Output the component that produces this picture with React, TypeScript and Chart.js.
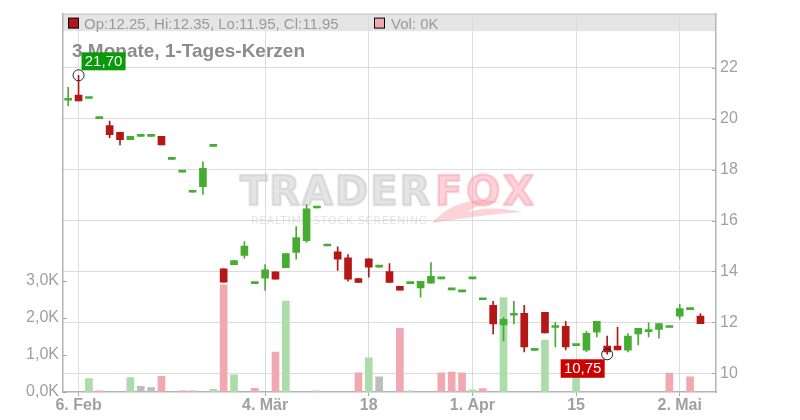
import React, { useEffect, useRef } from "react";
import { Chart, registerables } from "chart.js";

Chart.register(...registerables);

// ---------- data ----------
const dates = [
  "05.02.", "06.02.", "07.02.", "08.02.", "09.02.", "12.02.", "13.02.", "14.02.", "15.02.", "16.02.",
  "19.02.", "20.02.", "21.02.", "22.02.", "23.02.", "26.02.", "27.02.", "28.02.", "01.03.", "04.03.",
  "05.03.", "06.03.", "07.03.", "08.03.", "11.03.", "12.03.", "13.03.", "14.03.", "15.03.", "18.03.",
  "19.03.", "20.03.", "21.03.", "22.03.", "25.03.", "26.03.", "27.03.", "28.03.", "29.03.", "01.04.",
  "02.04.", "03.04.", "04.04.", "05.04.", "08.04.", "09.04.", "10.04.", "11.04.", "12.04.", "15.04.",
  "16.04.", "17.04.", "18.04.", "19.04.", "22.04.", "23.04.", "24.04.", "26.04.", "30.04.", "02.05.",
  "03.05.", "06.05.", "07.05.",
];

const opens = [
  20.72, 20.92, 20.79, 20.0, 19.73, 19.46, 19.17, 19.3, 19.3, 19.3,
  18.4, 17.9, 17.11, 17.33, 18.91, 14.1, 14.27, 14.63, 13.52, 13.74,
  13.99, 14.15, 14.75, 15.21, 16.49, 15.0, 14.77, 14.54, 13.72, 14.5,
  14.17, 14.0, 13.42, 13.52, 13.35, 13.54, 13.71, 13.28, 13.2, 13.71,
  12.89, 12.67, 11.9, 12.28, 12.36, 10.9, 12.4, 11.8, 11.85, 11.09,
  10.91, 11.62, 11.07, 11.07, 10.91, 11.55, 11.64, 11.73, 11.8, 12.25,
  12.5, 12.25,
];
const highs = [
  21.23, 21.7, 20.79, 20.0, 19.9, 19.47, 19.3, 19.3, 19.3, 19.3,
  18.4, 17.9, 17.11, 18.3, 18.91, 14.1, 14.43, 15.17, 13.52, 14.27,
  13.99, 14.7, 15.76, 16.62, 16.49, 15.0, 14.97, 14.66, 13.72, 14.5,
  14.17, 14.31, 13.42, 13.52, 13.61, 14.35, 13.71, 13.28, 13.2, 13.71,
  12.89, 12.83, 12.2, 12.83, 12.67, 10.9, 12.4, 12.0, 12.04, 11.09,
  11.65, 12.04, 11.46, 11.81, 11.56, 11.77, 11.98, 11.95, 11.8, 12.71,
  12.5, 12.35,
];
const lows = [
  20.51, 20.69, 20.79, 20.0, 19.25, 18.97, 19.17, 19.3, 19.3, 18.97,
  18.4, 17.9, 17.11, 17.02, 18.91, 13.58, 14.27, 14.52, 13.52, 13.26,
  13.7, 14.15, 14.48, 15.14, 16.49, 15.0, 14.04, 13.62, 13.57, 13.78,
  14.17, 13.57, 13.27, 13.52, 12.99, 13.54, 13.71, 13.28, 13.2, 13.71,
  12.89, 11.55, 11.27, 11.94, 10.84, 10.9, 11.59, 11.04, 10.92, 11.09,
  10.84, 11.43, 10.75, 10.92, 10.84, 11.12, 11.43, 11.38, 11.8, 12.13,
  12.5, 11.95,
];
const closes = [
  20.72, 20.69, 20.79, 20.0, 19.37, 19.17, 19.3, 19.3, 19.3, 18.97,
  18.4, 17.9, 17.11, 18.05, 18.91, 13.58, 14.43, 15.0, 13.52, 14.06,
  13.7, 14.7, 15.33, 16.46, 16.49, 15.0, 14.48, 13.7, 13.57, 14.17,
  14.17, 13.57, 13.27, 13.52, 13.61, 13.81, 13.71, 13.28, 13.2, 13.71,
  12.89, 11.94, 12.12, 12.28, 11.04, 10.9, 11.59, 11.8, 11.04, 11.09,
  11.57, 12.04, 10.84, 10.92, 11.46, 11.77, 11.64, 11.95, 11.8, 12.54,
  12.5, 11.95,
];
// volume in thousands (null = no trade volume)
const volumes = [
  null, null, 0.36, 0.03, null, null, 0.39, 0.15, 0.12, 0.42,
  null, 0.03, 0.03, null, 0.07, 2.89, 0.46, null, 0.1, null,
  1.08, 2.45, null, null, 0.03, null, null, null, 0.52, 0.92,
  0.41, null, 1.72, 0.03, null, null, 0.52, 0.54, 0.52, 0.06,
  0.09, null, 2.55, null, null, null, 1.4, null, null, 0.7,
  null, null, null, null, null, null, null, null, 0.51, null,
  0.41, null,
];

const xTickIndices = [1, 19, 29, 39, 49, 59];
const xTickTexts = ["6. Feb", "4. Mär", "18", "1. Apr", "15", "2. Mai"];
const priceTicks = [10, 12, 14, 16, 18, 20, 22];
const volumeTicks = [0, 1, 2, 3];
const titleText = "3 Monate, 1-Tages-Kerzen";

// ---------- styles ----------
const FONT = '"Liberation Sans", Arial, Helvetica, sans-serif';
const GREEN = "#46ad32";
const RED = "#b51616";
const VOL_GREEN = "#acdcaa";
const VOL_RED = "#f0a8b1";
const VOL_GRAY = "#bdbdbd";
const GRID = "#dcdcdc";
const AXIS = "#b4b4b4";
const TICK_TEXT = "#a0a0a0";

const fmt = (v: number) => v.toFixed(2).replace(".", ",");

export default function App() {
  const ref = useRef<HTMLCanvasElement | null>(null);

  useEffect(() => {
    document.body.style.margin = "0";
    const canvas = ref.current;
    if (!canvas) return;

    const candleColors = opens.map((o, i) => (closes[i] >= o ? GREEN : RED));
    const volColors = closes.map((c, i) => {
      if (i === 0) return VOL_GRAY;
      const p = closes[i - 1];
      return c > p ? VOL_GREEN : c < p ? VOL_RED : VOL_GRAY;
    });

    let hiIdx = 0;
    let loIdx = 0;
    highs.forEach((h, i) => { if (h > highs[hiIdx]) hiIdx = i; });
    lows.forEach((l, i) => { if (l < lows[loIdx]) loIdx = i; });

    const overlay = {
      id: "overlay",
      beforeDraw(chart: any) {
        const { ctx, chartArea: a } = chart;
        ctx.save();
        ctx.fillStyle = "#e5e5e5";
        ctx.fillRect(a.left, a.top, a.right - a.left, 17.5);
        ctx.strokeStyle = "#c4c4c4";
        ctx.lineWidth = 1;
        ctx.beginPath();
        ctx.moveTo(a.left, a.top + 0.5);
        ctx.lineTo(a.right, a.top + 0.5);
        ctx.stroke();
        ctx.restore();
      },
      beforeDatasetsDraw(chart: any) {
        const { ctx } = chart;
        ctx.save();
        ctx.textBaseline = "alphabetic";
        ctx.textAlign = "left";
        ctx.font = 'bold 40px "DejaVu Sans", sans-serif';
        ctx.lineJoin = "round";
        ctx.lineWidth = 2.5;
        (ctx as any).letterSpacing = "2px";
        ctx.fillStyle = "rgba(195,195,195,0.45)";
        ctx.strokeStyle = "rgba(195,195,195,0.45)";
        ctx.fillText("TRADER", 240, 205);
        ctx.strokeText("TRADER", 240, 205);
        (ctx as any).letterSpacing = "4px";
        ctx.fillStyle = "rgba(248,150,162,0.42)";
        ctx.strokeStyle = "rgba(248,150,162,0.42)";
        ctx.fillText("FOX", 435, 205);
        ctx.strokeText("FOX", 435, 205);
        // fox tail swoosh
        ctx.beginPath();
        ctx.moveTo(432, 223);
        ctx.quadraticCurveTo(458, 194, 500, 202);
        ctx.quadraticCurveTo(476, 204, 468, 212);
        ctx.quadraticCurveTo(492, 205, 522, 212);
        ctx.quadraticCurveTo(480, 215, 432, 223);
        ctx.closePath();
        ctx.fill();
        // subtitle
        ctx.font = '11px "DejaVu Sans", sans-serif';
        const sub = "REALTIME STOCK SCREENING";
        (ctx as any).letterSpacing = "0px";
        const w = ctx.measureText(sub).width;
        const sp = (176 - w) / (sub.length - 1);
        (ctx as any).letterSpacing = sp + "px";
        ctx.fillStyle = "rgba(195,195,195,0.45)";
        ctx.fillText(sub, 251, 223.5);
        ctx.restore();
      },
      afterDatasetsDraw(chart: any) {
        const { ctx, chartArea: a, scales } = chart;
        const xs = scales.x;
        const yp = scales.yPrice;
        const yv = scales.yVol;
        ctx.save();

        // inward ticks on y axes
        ctx.strokeStyle = "#a8a8a8";
        ctx.lineWidth = 1;
        volumeTicks.forEach((v) => {
          const y = Math.round(yv.getPixelForValue(v)) + 0.5;
          ctx.beginPath();
          ctx.moveTo(a.left, y);
          ctx.lineTo(a.left + 4, y);
          ctx.stroke();
        });
        priceTicks.forEach((v) => {
          const y = Math.round(yp.getPixelForValue(v)) + 0.5;
          ctx.beginPath();
          ctx.moveTo(a.right - 4, y);
          ctx.lineTo(a.right, y);
          ctx.stroke();
        });

        // title
        ctx.font = `bold 19px ${FONT}`;
        ctx.fillStyle = "#8c8c8c";
        ctx.textAlign = "left";
        ctx.textBaseline = "alphabetic";
        ctx.fillText(titleText, a.left + 9, a.top + 43);

        // legend in band
        const last = opens.length - 1;
        ctx.fillStyle = RED;
        ctx.fillRect(a.left + 5.5, a.top + 4.5, 10, 10);
        ctx.strokeStyle = "#000";
        ctx.strokeRect(a.left + 5.5, a.top + 4.5, 10, 10);
        ctx.font = `15px ${FONT}`;
        ctx.fillStyle = "#9a9a9a";
        ctx.fillText(
          `Op:${opens[last].toFixed(2)}, Hi:${highs[last].toFixed(2)}, Lo:${lows[last].toFixed(2)}, Cl:${closes[last].toFixed(2)}`,
          a.left + 21,
          a.top + 15
        );
        ctx.fillStyle = VOL_RED;
        ctx.fillRect(a.left + 311.5, a.top + 4.5, 10, 10);
        ctx.strokeStyle = "#000";
        ctx.strokeRect(a.left + 311.5, a.top + 4.5, 10, 10);
        ctx.fillStyle = "#9a9a9a";
        const lv = volumes[last];
        ctx.fillText(`Vol: ${lv == null ? 0 : lv}K`, a.left + 328, a.top + 15);

        // high marker
        const hx = xs.getPixelForValue(hiIdx);
        const hy = yp.getPixelForValue(highs[hiIdx]);
        ctx.beginPath();
        ctx.arc(hx, hy, 5.5, 0, Math.PI * 2);
        ctx.strokeStyle = "#222";
        ctx.lineWidth = 1;
        ctx.stroke();
        ctx.fillStyle = "#089a08";
        ctx.fillRect(hx + 3, hy - 23, 44, 18);
        ctx.fillStyle = "#fff";
        ctx.font = `15px ${FONT}`;
        ctx.textAlign = "center";
        ctx.textBaseline = "middle";
        ctx.fillText(fmt(highs[hiIdx]), hx + 25, hy - 13.5);

        // low marker
        const lx = xs.getPixelForValue(loIdx);
        const ly = yp.getPixelForValue(lows[loIdx]);
        ctx.beginPath();
        ctx.arc(lx, ly, 5.5, 0, Math.PI * 2);
        ctx.strokeStyle = "#222";
        ctx.stroke();
        ctx.fillStyle = "#cc0000";
        ctx.fillRect(lx - 46.5, ly + 5, 44, 18.5);
        ctx.fillStyle = "#fff";
        ctx.fillText(fmt(lows[loIdx]), lx - 24.5, ly + 14.7);

        ctx.restore();
      },
    };

    const chart = new Chart(canvas, {
      type: "bar",
      data: {
        labels: dates,
        datasets: [
          {
            label: "body",
            data: opens.map((o, i) => [o, closes[i]]) as any,
            backgroundColor: candleColors,
            barThickness: 7,
            minBarLength: 2,
            grouped: false,
            yAxisID: "yPrice",
            order: 0,
            borderWidth: 0,
          } as any,
          {
            label: "wick",
            data: lows.map((l, i) => [l, highs[i]]) as any,
            backgroundColor: candleColors,
            barThickness: 1,
            grouped: false,
            yAxisID: "yPrice",
            order: 1,
            borderWidth: 0,
          } as any,
          {
            label: "volume",
            data: volumes as any,
            backgroundColor: volColors,
            barThickness: 7,
            grouped: false,
            yAxisID: "yVol",
            order: 2,
            borderWidth: 0,
          } as any,
        ],
      },
      options: {
        responsive: false,
        animation: false,
        layout: { padding: { top: 12, left: 0, right: 0, bottom: 0 } },
        plugins: {
          legend: { display: false },
          tooltip: { enabled: false },
          title: { display: false },
        },
        scales: {
          x: {
            type: "category",
            offset: true,
            grid: {
              offset: false,
              color: (c: any) => (xTickIndices.includes(c.index) ? GRID : "transparent"),
              tickColor: (c: any) => (xTickIndices.includes(c.index) ? "#a8a8a8" : "transparent"),
              tickLength: 4,
              drawTicks: true,
            },
            border: { display: true, color: AXIS, width: 1.5 },
            ticks: {
              autoSkip: false,
              maxRotation: 0,
              minRotation: 0,
              padding: 0,
              color: TICK_TEXT,
              font: { family: FONT, size: 16, weight: "bold" },
              callback: (_v: any, i: number) => {
                const k = xTickIndices.indexOf(i);
                return k >= 0 ? xTickTexts[k] : "";
              },
            },
            afterFit: (s: any) => { s.height = 28; },
          },
          yVol: {
            type: "linear",
            position: "left",
            min: 0,
            max: 10.21,
            grid: { display: false, drawTicks: false },
            border: { display: true, color: AXIS, width: 1.5 },
            ticks: {
              padding: 4,
              color: TICK_TEXT,
              font: { family: FONT, size: 16 },
              callback: (v: any) => Number(v).toFixed(1).replace(".", ",") + "K",
            },
            afterBuildTicks: (s: any) => { s.ticks = volumeTicks.map((v) => ({ value: v })); },
            afterFit: (s: any) => { s.width = 63; },
          },
          yPrice: {
            type: "linear",
            position: "right",
            min: 9.269,
            max: 24.122,
            grid: { color: GRID, drawTicks: false },
            border: { display: true, color: AXIS, width: 1.5 },
            ticks: {
              padding: 4,
              color: TICK_TEXT,
              font: { family: FONT, size: 16 },
              callback: (v: any) => String(v),
            },
            afterBuildTicks: (s: any) => { s.ticks = priceTicks.map((v) => ({ value: v })); },
            afterFit: (s: any) => { s.width = 84; },
          },
        },
      } as any,
      plugins: [overlay],
    });

    return () => chart.destroy();
  }, []);

  return (
    <div style={{ width: 800, height: 420, background: "#fff" }}>
      <canvas ref={ref} width={800} height={420} style={{ display: "block", width: 800, height: 420 }} />
    </div>
  );
}
